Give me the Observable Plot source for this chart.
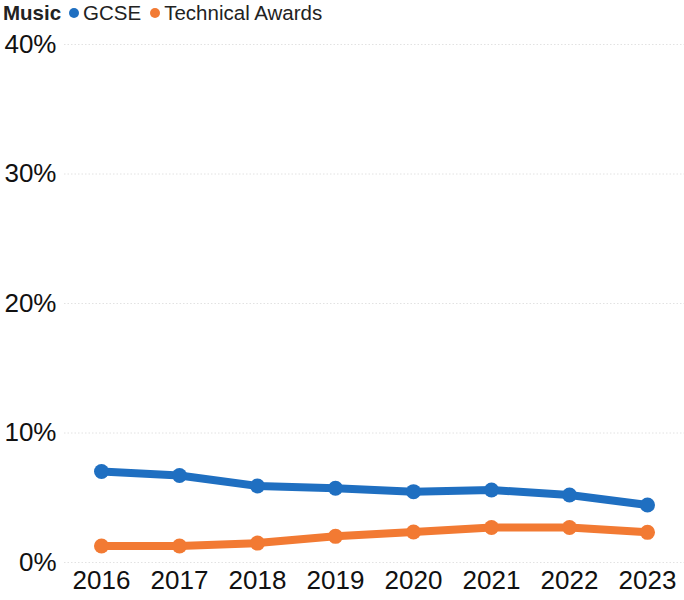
<!DOCTYPE html>
<html>
<head>
<meta charset="utf-8">
<script src="https://cdn.jsdelivr.net/npm/d3@7"></script>
<script src="https://cdn.jsdelivr.net/npm/@observablehq/plot@0.6"></script>
<style>
  html, body { margin: 0; padding: 0; background: #fff; }
  body { width: 684px; height: 600px; overflow: hidden; font-family: "Liberation Sans", Arial, sans-serif; }
  #legend { height: 26px; display: flex; align-items: center; font-size: 20.5px; color: #222; padding-left: 3px; white-space: nowrap; }
  #legend b { margin-right: 8px; }
  .sw { display: inline-block; width: 10px; height: 10px; border-radius: 50%; margin-right: 4px; }
  .item { display: inline-flex; align-items: center; margin-right: 9px; }
</style>
</head>
<body>
<div id="legend"></div>
<div id="chart"></div>
<script>
const title = "Music";
const years = ["2016", "2017", "2018", "2019", "2020", "2021", "2022", "2023"];
const seriesNames = ["GCSE", "Technical Awards"];
const gcse = [0.0703, 0.0672, 0.0591, 0.0573, 0.0547, 0.0560, 0.0521, 0.0444];
const technical = [0.0127, 0.0127, 0.0150, 0.0202, 0.0236, 0.0270, 0.0270, 0.0233];
const colors = ["#1f6fc1", "#f27a33"];
const yTicks = [0, 0.1, 0.2, 0.3, 0.4];

const data = [];
years.forEach((y, i) => {
  data.push({year: y, series: seriesNames[0], value: gcse[i]});
  data.push({year: y, series: seriesNames[1], value: technical[i]});
});

// legend
const legend = document.getElementById("legend");
const t = document.createElement("b");
t.textContent = title;
legend.appendChild(t);
seriesNames.forEach((s, i) => {
  const it = document.createElement("span");
  it.className = "item";
  const sw = document.createElement("span");
  sw.className = "sw";
  sw.style.background = colors[i];
  it.appendChild(sw);
  it.appendChild(document.createTextNode(s));
  legend.appendChild(it);
});

const chart = Plot.plot({
  width: 684,
  height: 574,
  marginLeft: 64,
  marginRight: 0,
  marginTop: 18,
  marginBottom: 38,
  style: {fontFamily: "'Liberation Sans', Arial, sans-serif", fontSize: "26px", color: "#111", background: "#fff"},
  x: {type: "point", domain: years, padding: 0.43, label: null, tickSize: 0, tickPadding: 4},
  y: {domain: [0, 0.4], ticks: yTicks, label: null, tickSize: 0, tickPadding: 8, tickFormat: d => Math.round(d * 100) + "%"},
  color: {domain: seriesNames, range: colors},
  marks: [
    Plot.gridY(yTicks, {stroke: "#e2e2e2", strokeOpacity: 1, strokeDasharray: "1.5,2", strokeWidth: 1}),
    Plot.axisY({ticks: yTicks, tickSize: 0, tickPadding: 8, tickFormat: d => Math.round(d * 100) + "%", label: null, fontSize: 26}),
    Plot.axisX({tickSize: 0, tickPadding: 8, label: null, fontSize: 26}),
    Plot.line(data, {x: "year", y: "value", stroke: "series", z: "series", strokeWidth: 8, strokeLinejoin: "round", strokeLinecap: "round"}),
    Plot.dot(data, {x: "year", y: "value", fill: "series", r: 7.5})
  ]
});
document.getElementById("chart").appendChild(chart);
</script>
</body>
</html>
